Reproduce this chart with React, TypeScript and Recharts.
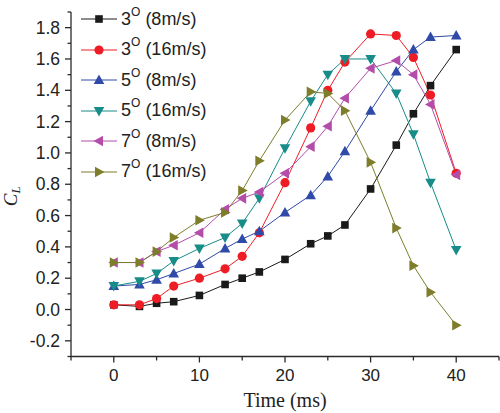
import React from 'react';
import { LineChart, Line, XAxis, YAxis, Legend } from 'recharts';

// time samples (ms) shared by every run
const TIMES = [0, 3, 5, 7, 10, 13, 15, 17, 20, 23, 25, 27, 30, 33, 35, 37, 40];

// lift coefficient per run
const CL_3DEG_8 = [0.03, 0.02, 0.04, 0.05, 0.09, 0.16, 0.2, 0.24, 0.32, 0.42, 0.47, 0.54, 0.77, 1.05, 1.25, 1.43, 1.66];
const CL_3DEG_16 = [0.03, 0.03, 0.07, 0.15, 0.2, 0.26, 0.34, 0.49, 0.81, 1.16, 1.4, 1.58, 1.76, 1.75, 1.61, 1.37, 0.87];
const CL_5DEG_8 = [0.15, 0.16, 0.19, 0.23, 0.29, 0.39, 0.45, 0.5, 0.62, 0.73, 0.85, 1.01, 1.27, 1.52, 1.66, 1.74, 1.75];
const CL_5DEG_16 = [0.15, 0.18, 0.23, 0.31, 0.39, 0.46, 0.55, 0.71, 1.03, 1.33, 1.5, 1.6, 1.6, 1.38, 1.12, 0.81, 0.38];
const CL_7DEG_8 = [0.3, 0.3, 0.37, 0.41, 0.49, 0.64, 0.71, 0.75, 0.87, 1.04, 1.17, 1.35, 1.54, 1.59, 1.5, 1.31, 0.86];
const CL_7DEG_16 = [0.3, 0.3, 0.37, 0.46, 0.57, 0.62, 0.76, 0.95, 1.21, 1.39, 1.38, 1.27, 0.94, 0.52, 0.28, 0.11, -0.1];

const X_MAJOR = [0, 10, 20, 30, 40];
const X_MINOR = [-5, 5, 15, 25, 35, 45];
const Y_MAJOR = [-0.2, 0, 0.2, 0.4, 0.6, 0.8, 1.0, 1.2, 1.4, 1.6, 1.8];
const Y_MINOR = [-0.3, -0.1, 0.1, 0.3, 0.5, 0.7, 0.9, 1.1, 1.3, 1.5, 1.7, 1.9];

type Shape = 'square' | 'circle' | 'up' | 'down' | 'left' | 'right';

const SERIES: { key: string; angle: string; speed: string; color: string; shape: Shape; values: number[] }[] = [
  { key: 's1', angle: '3', speed: '(8m/s)', color: '#1a1a1a', shape: 'square', values: CL_3DEG_8 },
  { key: 's2', angle: '3', speed: '(16m/s)', color: '#ee1d25', shape: 'circle', values: CL_3DEG_16 },
  { key: 's3', angle: '5', speed: '(8m/s)', color: '#2f4aa8', shape: 'up', values: CL_5DEG_8 },
  { key: 's4', angle: '5', speed: '(16m/s)', color: '#178c88', shape: 'down', values: CL_5DEG_16 },
  { key: 's5', angle: '7', speed: '(8m/s)', color: '#b44ca9', shape: 'left', values: CL_7DEG_8 },
  { key: 's6', angle: '7', speed: '(16m/s)', color: '#7d7d2c', shape: 'right', values: CL_7DEG_16 },
];

const data = TIMES.map((t, i) => {
  const row: Record<string, number> = { t };
  SERIES.forEach(s => { row[s.key] = s.values[i]; });
  return row;
});

const AXIS = '#2a2a2a';
const SANS = '"Liberation Sans", Arial, sans-serif';
const SERIF = '"Liberation Serif", "Times New Roman", serif';

const Marker = ({ shape, cx, cy, color }: { shape: Shape; cx: number; cy: number; color: string }) => {
  switch (shape) {
    case 'square':
      return <rect x={cx - 3.8} y={cy - 3.8} width={7.6} height={7.6} fill={color} />;
    case 'circle':
      return <circle cx={cx} cy={cy} r={4.6} fill={color} />;
    case 'up':
      return <path d={`M${cx},${cy - 5.5}L${cx + 5.3},${cy + 4}L${cx - 5.3},${cy + 4}Z`} fill={color} />;
    case 'down':
      return <path d={`M${cx},${cy + 5.5}L${cx + 5.3},${cy - 4}L${cx - 5.3},${cy - 4}Z`} fill={color} />;
    case 'left':
      return <path d={`M${cx - 5.5},${cy}L${cx + 4},${cy - 5.3}L${cx + 4},${cy + 5.3}Z`} fill={color} />;
    default:
      return <path d={`M${cx + 5.5},${cy}L${cx - 4},${cy - 5.3}L${cx - 4},${cy + 5.3}Z`} fill={color} />;
  }
};

const makeDot = (shape: Shape, color: string) => (p: any) => (
  <g key={`${shape}-${p.index}`}>
    <Marker shape={shape} cx={p.cx} cy={p.cy} color={color} />
  </g>
);

const isIn = (list: number[], v: number) => list.some(m => Math.abs(m - v) < 1e-6);

const XTick = (props: any) => {
  const { x, y, payload } = props;
  const major = isIn(X_MAJOR, payload.value);
  return (
    <g>
      <line x1={x} x2={x} y1={y} y2={y + (major ? 6 : 4)} stroke={AXIS} strokeWidth={1.3} />
      {major && (
        <text x={x} y={y + 24.5} textAnchor="middle" fontSize={17} fill="#222" fontFamily={SANS}>
          {payload.value}
        </text>
      )}
    </g>
  );
};

const YTick = (props: any) => {
  const { x, y, payload } = props;
  const major = isIn(Y_MAJOR, payload.value);
  return (
    <g>
      <line x1={x - (major ? 6 : 3.5)} x2={x} y1={y} y2={y} stroke={AXIS} strokeWidth={1.3} />
      {major && (
        <text x={x - 11} y={y + 6} textAnchor="end" fontSize={17.5} fill="#222" fontFamily={SANS}>
          {payload.value.toFixed(1)}
        </text>
      )}
    </g>
  );
};

const LegendBox = () => (
  <div style={{ fontFamily: SANS, fontSize: 18, color: '#222' }}>
    {SERIES.map(s => (
      <div key={s.key} style={{ display: 'flex', alignItems: 'center', height: 30.5 }}>
        <svg width={38} height={14} style={{ display: 'block' }}>
          <line x1={1} x2={37} y1={7} y2={7} stroke={s.color} strokeWidth={1} />
          <Marker shape={s.shape} cx={19} cy={7} color={s.color} />
        </svg>
        <span style={{ marginLeft: 3, whiteSpace: 'nowrap' }}>
          {s.angle}
          <sup style={{ fontSize: 12, verticalAlign: 'top', position: 'relative', top: -4 }}>O</sup> {s.speed}
        </span>
      </div>
    ))}
  </div>
);

const TimeLabel = (props: any) => {
  const vb = props.viewBox;
  return (
    <text
      x={vb.x + vb.width / 2}
      y={vb.y + vb.height - 6}
      textAnchor="middle"
      fontFamily={SERIF}
      fontSize={20}
      fontWeight="normal"
      fill="#222"
      stroke="none"
    >
      Time (ms)
    </text>
  );
};

const CLLabel = (props: any) => {
  const vb = props.viewBox;
  const cx = 17;
  const cy = vb.y + vb.height / 2 + 12;
  return (
    <text
      x={cx}
      y={cy}
      transform={`rotate(-90, ${cx}, ${cy})`}
      textAnchor="middle"
      fontFamily={SERIF}
      fontStyle="italic"
      fontSize={19}
      fill="#222"
      stroke="none"
    >
      C<tspan fontSize={13} dy={3}>L</tspan>
    </text>
  );
};

export default function App() {
  return (
    <div style={{ position: 'absolute', left: 0, top: 0, background: '#fff' }}>
      <LineChart width={500} height={413} data={data} margin={{ top: 12, right: 1, left: 0, bottom: 0 }}>
        <XAxis
          dataKey="t"
          type="number"
          domain={[-5, 45]}
          ticks={[...X_MINOR, ...X_MAJOR].sort((a, b) => a - b)}
          interval={0}
          allowDataOverflow
          height={56.5}
          stroke={AXIS}
          strokeWidth={1.3}
          tickLine={false}
          tickSize={0}
          tickMargin={0}
          tick={<XTick />}
          label={{ content: <TimeLabel /> }}
        />
        <YAxis
          type="number"
          domain={[-0.3, 1.9]}
          ticks={[...Y_MINOR, ...Y_MAJOR].sort((a, b) => a - b)}
          interval={0}
          allowDataOverflow
          width={71}
          stroke={AXIS}
          strokeWidth={1.3}
          tickLine={false}
          tickSize={0}
          tickMargin={0}
          tick={<YTick />}
          label={{ content: <CLLabel /> }}
        />
        <Legend
          layout="vertical"
          align="center"
          verticalAlign="middle"
          content={<LegendBox />}
          wrapperStyle={{ left: 80, top: 4, width: 'auto', height: 'auto' }}
        />
        {SERIES.map(s => (
          <Line
            key={s.key}
            dataKey={s.key}
            type="linear"
            stroke={s.color}
            strokeWidth={1}
            dot={makeDot(s.shape, s.color)}
            activeDot={false}
            isAnimationActive={false}
          />
        ))}
      </LineChart>
    </div>
  );
}
